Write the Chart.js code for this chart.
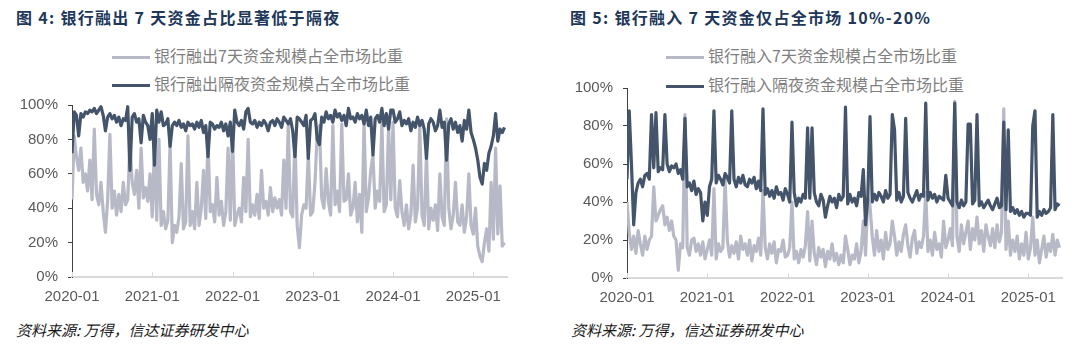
<!DOCTYPE html>
<html lang="zh-CN">
<head>
<meta charset="UTF-8">
<title>银行融出/融入资金期限占比</title>
<script src="https://cdn.jsdelivr.net/npm/chart.js"></script>
<style>
  body { margin: 0; background: #fff; width: 1080px; height: 353px; position: relative; overflow: hidden;
         font-family: "Noto Sans CJK SC", sans-serif; }
  .title { position: absolute; top: 6px; font-size: 16px; line-height: 22px; font-weight: 700; color: #20375a;
           letter-spacing: 1.3px; white-space: nowrap; }
  .legend { position: absolute; font-size: 16px; line-height: 20px; color: #7f7f7f; white-space: nowrap; }
  .legend i { display: inline-block; width: 38px; height: 3px; vertical-align: middle; margin-right: 4px; }
  .source { position: absolute; top: 320px; font-size: 15px; line-height: 20px; font-style: italic; color: #1a1a1a; }
  canvas { position: absolute; }
</style>
</head>
<body>
  <div class="title" style="left:16px">图 4:&nbsp;银行融出 7 天资金占比显著低于隔夜</div>
  <div class="title" style="left:570px">图 5:&nbsp;银行融入 7 天资金仅占全市场 10%-20%</div>

  <div class="legend" style="left:112px;top:45px"><i style="background:#b7b9c6"></i>银行融出7天资金规模占全市场比重</div>
  <div class="legend" style="left:112px;top:73px"><i style="background:#44546a"></i>银行融出隔夜资金规模占全市场比重</div>
  <div class="legend" style="left:666px;top:45px"><i style="background:#b7b9c6"></i>银行融入7天资金规模占全市场比重</div>
  <div class="legend" style="left:666px;top:74px"><i style="background:#44546a"></i>银行融入隔夜资金规模占全市场比重</div>

  <canvas id="lendChart" width="540" height="224" style="left:0;top:86px"></canvas>
  <canvas id="borrowChart" width="540" height="241" style="left:540px;top:69px"></canvas>

  <div class="source" style="left:16px">资料来源: 万得，信达证券研发中心</div>
  <div class="source" style="left:571px">资料来源: 万得，信达证券研发中心</div>

<script>
// 2020-01 起，每月取 3 个观测点（约旬度），单位 %
const perMonth = 3;
const yearTicks = [2020, 2021, 2022, 2023, 2024, 2025];
const xMax = 2025.42;

// 图4 银行融出
const lend7d = [
  45,82,70, 62,75,55, 60,50,68, 45,86,48, 42,55,38, 26,45,83, 40,50,36, 48,38,55, 42,45,78, 55,48,62, 40,75,46, 52,44,60,
  35,78,33, 80,30,38, 28,33,78, 20,30,26, 35,66,28, 32,82,30, 38,28,55, 30,40,62, 34,80,38, 42,32,58, 36,44,30, 38,75,33,
  85,30,36, 40,32,58, 38,80,35, 42,36,48, 34,62,40, 44,36,52, 38,46,40, 45,36,68, 40,88,38, 35,82,30, 17,36,42, 40,72,36,
  38,55,84, 88,46,40, 63,44,36, 88,42,50, 38,89,44, 45,60,36, 40,55,32, 48,26,90, 38,46,62, 71,40,50, 44,90,38, 42,88,45,
  90,40,35, 56,38,30, 42,28,36, 65,32,40, 88,36,30, 72,28,40, 33,42,27, 60,35,30, 92,40,28, 36,55,32, 30,42,26, 35,60,30,
  25,40,18, 12,9,20, 28,15,55, 22,75,25, 53,18,20
];
const lendOvernight = [
  72,96,94, 82,95,93, 96,95,97, 96,98,95, 97,99,94, 85,93,95, 92,94,90, 93,88,92, 91,99,62, 93,95,90, 92,78,94, 90,88,80,
  95,65,97, 90,96,88, 89,92,76, 88,90,88, 91,87,89, 85,90,88, 89,86,90, 87,91,84, 88,70,90, 89,86,88, 87,90,85, 89,82,90,
  73,97,90, 88,91,86, 96,98,90, 89,91,87, 90,88,91, 89,85,90, 91,88,92, 90,87,93, 91,89,92, 85,70,93, 92,90,88, 94,69,91,
  92,95,80, 77,93,90, 96,92,94, 90,97,93, 95,91,94, 88,98,92, 93,90,95, 92,94,89, 97,88,93, 71,92,94, 90,98,88, 95,86,97,
  97,90,92, 96,88,91, 89,92,85, 90,87,93, 88,91,86, 69,89,92, 90,85,88, 97,87,90, 68,89,92, 86,90,84, 88,79,91, 86,97,84,
  80,75,68, 58,54,66, 62,72,76, 82,95,79, 86,84,87
];

// 图5 银行融入
const borrow7d = [
  40,24,15, 22,13,25, 18,12,22, 15,20,22, 48,30,33, 36,38,28, 32,25,30, 22,20,4, 18,16,86, 16,12,20, 21,14,18, 12,19,10,
  15,20,12, 47,10,18, 14,16,52, 20,11,17, 13,19,10, 22,15,18, 12,20,9, 17,14,21, 12,46,16, 10,18,13, 19,8,15, 14,20,11,
  12,16,40, 10,14,8, 15,11,17, 35,9,30, 13,7,16, 11,15,6, 14,10,18, 9,13,7, 12,8,22, 15,7,12, 10,18,8, 14,30,12,
  42,38,22, 12,25,14, 20,10,24, 15,18,30, 22,12,19, 14,23,28, 17,11,21, 25,13,19, 16,22,45, 14,20,12, 24,15,18, 11,30,16,
  20,26,17, 93,22,14, 28,18,24, 30,15,26, 20,32,18, 25,14,28, 22,17,26, 16,28,19, 24,89,15, 30,12,20, 14,22,10, 18,12,24,
  10,16,32, 12,20,8, 15,22,11, 18,14,23, 12,20,16
];
const borrowOvernight = [
  52,88,60, 28,45,50, 52,48,54, 55,52,86, 58,87,56, 58,57,86, 60,56,59, 58,60,55, 57,52,84, 48,50,46, 51,44,47, 45,30,40,
  33,48,52, 88,50,54, 52,49,55, 53,50,88, 52,48,53, 50,54,49, 48,52,50, 53,47,51, 46,89,44, 47,43,46, 42,48,44, 45,41,47,
  44,40,82, 45,38,42, 40,44,42, 79,42,79, 45,40,38, 44,41,32, 38,43,40, 42,37,44, 41,43,90, 39,44,40, 42,38,45, 43,57,28,
  42,85,40, 44,41,45, 43,40,46, 42,44,86, 78,41,45, 40,43,84, 45,42,40, 43,46,41, 44,43,92, 41,45,42, 44,40,43, 42,41,54,
  42,40,38, 92,40,37, 41,38,40, 81,81,39, 41,86,38, 40,37,39, 41,38,36, 39,42,37, 38,82,36, 78,35,37, 34,36,33, 35,32,34,
  34,33,80, 88,32,35, 33,36,34, 35,37,86, 36,39,38
];

const lightColor = '#b7b9c6';
const darkColor = '#44546a';
const tickFont = { family: "'Liberation Sans', Arial, sans-serif", size: 15 };

function toPoints(vals) {
  return vals.map((v, i) => ({ x: 2020 + i / (12 * perMonth), y: v }));
}

// x 轴刻度线画在轴线上方
const innerTicks = {
  id: 'innerTicks',
  beforeDatasetsDraw(chart) {
    const { ctx, chartArea, scales: { x } } = chart;
    ctx.save();
    ctx.strokeStyle = '#d9d9d9';
    ctx.lineWidth = 1;
    yearTicks.forEach(v => {
      const px = Math.round(x.getPixelForValue(v)) + 0.5;
      ctx.beginPath();
      ctx.moveTo(px, chartArea.bottom);
      ctx.lineTo(px, chartArea.bottom - 5);
      ctx.stroke();
    });
    ctx.restore();
  }
};

function makeChart(id, sevenDay, overnight, yw, padRight, xh) {
  return new Chart(document.getElementById(id), {
    type: 'line',
    data: {
      datasets: [
        { data: toPoints(overnight), borderColor: darkColor, borderWidth: 3.2, pointRadius: 0, borderJoinStyle: 'round' },
        { data: toPoints(sevenDay), borderColor: lightColor, borderWidth: 3.2, pointRadius: 0, borderJoinStyle: 'round' }
      ]
    },
    options: {
      responsive: false,
      animation: false,
      devicePixelRatio: 1,
      layout: { padding: { left: 0, right: padRight, top: 0, bottom: 0 } },
      plugins: { legend: { display: false }, tooltip: { enabled: false } },
      scales: {
        x: {
          type: 'linear', min: 2020, max: xMax,
          afterBuildTicks: s => { s.ticks = yearTicks.map(v => ({ value: v })); },
          afterFit: s => { s.height = xh; },
          grid: { display: false, drawTicks: false },
          border: { display: true, color: '#d9d9d9', width: 2 },
          ticks: { padding: 11, color: '#595959', font: tickFont, maxRotation: 0, autoSkip: false,
                   callback: v => v + '-01' }
        },
        y: {
          min: 0, max: 100,
          afterFit: s => { s.width = yw; },
          grid: { drawOnChartArea: false, drawTicks: true, tickLength: 4, color: '#404040' },
          border: { color: '#404040', width: 1 },
          ticks: { stepSize: 20, padding: 10, color: '#595959', font: tickFont, callback: v => v + '%' }
        }
      }
    },
    plugins: [innerTicks]
  });
}

makeChart('lendChart', lend7d, lendOvernight, 72, 33, 33);
makeChart('borrowChart', borrow7d, borrowOvernight, 87, 18, 32);
</script>
</body>
</html>
